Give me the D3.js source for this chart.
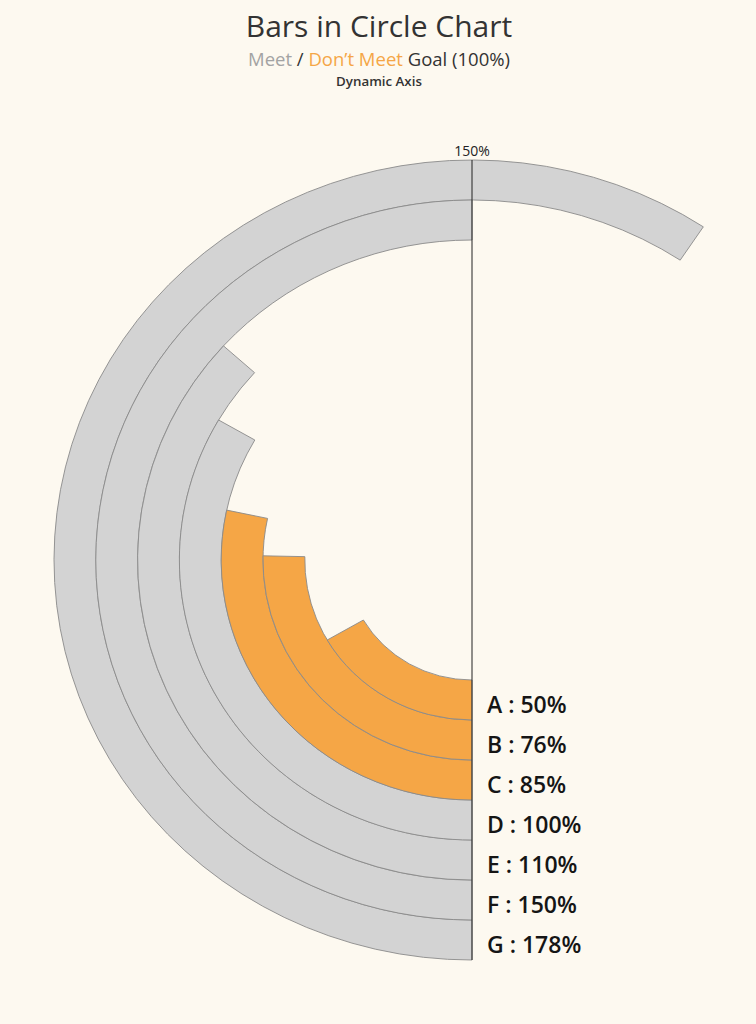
<!DOCTYPE html>
<html>
<head>
<meta charset="utf-8">
<script src="https://cdn.jsdelivr.net/npm/d3@7"></script>
<style>
  html, body { margin: 0; padding: 0; background: #fdf9f0; }
  svg { display: block; }
</style>
</head>
<body>
<svg id="chart" width="756" height="1024"></svg>
<script>
// ---- data ----
const categories = ["A", "B", "C", "D", "E", "F", "G"];
const values = [50, 76, 85, 100, 110, 150, 178];
const goal = 100;
const axisMax = 300;          // full circle, dynamic axis
const axisTicks = [150];      // label shown at top
const titleText = "Bars in Circle Chart";
const subtitleParts = [
  { text: "Meet", key: "meet" },
  { text: " / ", key: "dark" },
  { text: "Don\u2019t Meet", key: "miss" },
  { text: " Goal (100%)", key: "dark" }
];
const captionText = "Dynamic Axis";

// ---- style ----
const colors = { meet: "#d3d3d3", miss: "#f5a646", stroke: "#8a8a8a", dark: "#333333", meetText: "#a3a3a3" };
const cx = 472, cy = 560, xStretch = 1.045;

const svg = d3.select("#chart");
svg.append("rect").attr("width", 756).attr("height", 1024).attr("fill", "#fdf9f0");

const angle = d3.scaleLinear().domain([0, axisMax]).range([0, 2 * Math.PI]);
const radius = d3.scaleBand().domain(categories).range([120, 400]).paddingInner(0).paddingOuter(0);

const data = categories.map((c, i) => ({ cat: c, value: values[i] }));

const arc = d3.arc()
  .innerRadius(d => radius(d.cat))
  .outerRadius(d => radius(d.cat) + radius.bandwidth())
  .startAngle(Math.PI)
  .endAngle(d => Math.PI + angle(d.value));

const g = svg.append("g").attr("transform", `translate(${cx},${cy}) scale(${xStretch},1)`);

// draw outer first so inner strokes sit on top
g.selectAll("path.bar")
  .data(data.slice().reverse())
  .join("path")
  .attr("class", "bar")
  .attr("d", arc)
  .attr("fill", d => d.value >= goal ? colors.meet : colors.miss)
  .attr("stroke", colors.stroke)
  .attr("stroke-width", 0.9)
  .attr("vector-effect", "non-scaling-stroke");

// axis line
const rMax = radius.range()[1];
svg.append("line")
  .attr("x1", cx).attr("x2", cx)
  .attr("y1", cy - rMax).attr("y2", cy + rMax)
  .attr("stroke", "#222").attr("stroke-width", 1);

// tick label(s)
svg.selectAll("text.tick")
  .data(axisTicks)
  .join("text")
  .attr("class", "tick")
  .attr("x", d => cx + Math.sin(angle(d) + Math.PI) * (rMax + 4) * xStretch)
  .attr("y", d => cy - Math.cos(angle(d) + Math.PI) * (rMax + 4))
  .attr("text-anchor", "middle")
  .attr("font-family", "Open Sans, Noto Sans, sans-serif")
  .attr("font-size", 14)
  .attr("fill", "#222")
  .text(d => d + "%");

// category labels at bottom
svg.selectAll("text.lbl")
  .data(data)
  .join("text")
  .attr("class", "lbl")
  .attr("x", cx + 15)
  .attr("y", d => cy + radius(d.cat) + radius.bandwidth() / 2 + 13)
  .attr("font-family", "Open Sans, Noto Sans, sans-serif")
  .attr("font-size", 23)
  .attr("font-weight", 600)
  .attr("fill", "#151515")
  .text(d => `${d.cat} : ${d.value}%`);

// titles
svg.append("text")
  .attr("x", 379).attr("y", 37)
  .attr("text-anchor", "middle")
  .attr("font-family", "Open Sans, Noto Sans, sans-serif")
  .attr("font-size", 30)
  .attr("fill", colors.dark)
  .text(titleText);

const sub = svg.append("text")
  .attr("x", 379).attr("y", 66)
  .attr("text-anchor", "middle")
  .attr("font-family", "Open Sans, Noto Sans, sans-serif")
  .attr("font-size", 18.5)
  .attr("xml:space", "preserve");
sub.selectAll("tspan")
  .data(subtitleParts)
  .join("tspan")
  .attr("fill", d => d.key === "meet" ? colors.meetText : d.key === "miss" ? colors.miss : colors.dark)
  .text(d => d.text);

svg.append("text")
  .attr("x", 379).attr("y", 86)
  .attr("text-anchor", "middle")
  .attr("font-family", "Open Sans, Noto Sans, sans-serif")
  .attr("font-size", 13.3)
  .attr("font-weight", 600)
  .attr("fill", colors.dark)
  .text(captionText);
</script>
</body>
</html>
